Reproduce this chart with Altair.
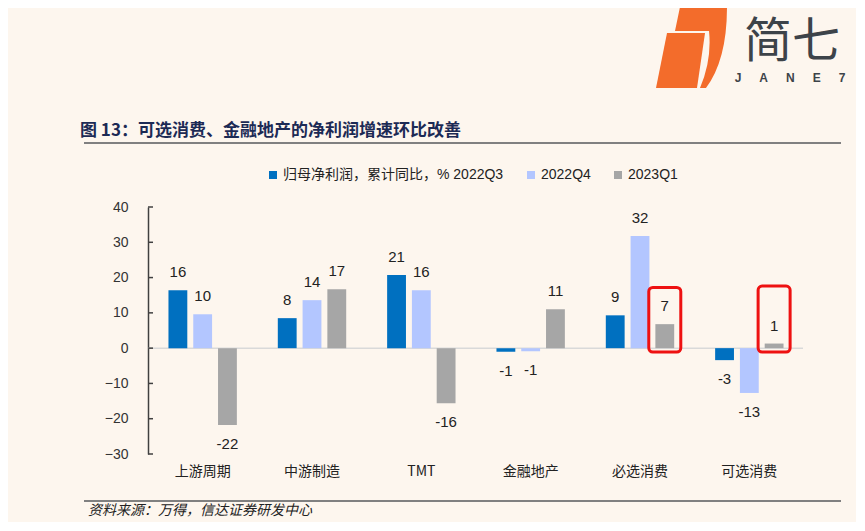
import altair as alt
import pandas as pd

# ---- data ----
categories = ["上游周期", "中游制造", "TMT", "金融地产", "必选消费", "可选消费"]
series = ["归母净利润，累计同比，% 2022Q3", "2022Q4", "2023Q1"]
q3_2022 = [16.4, 8.5, 20.7, -1.0, 9.3, -3.4]
q4_2022 = [9.6, 13.6, 16.4, -0.9, 31.8, -12.7]
q1_2023 = [-21.8, 16.7, -15.6, 11.0, 6.8, 1.3]
colors = ["#0070c0", "#b3c6ff", "#a6a6a6"]
y_ticks = [-30, -20, -10, 0, 10, 20, 30, 40]

highlight_categories = ["必选消费", "可选消费"]
highlight_series = "2023Q1"
highlight_top = [17.2, 17.6]
highlight_bottom = [-1.1, -1.1]

title_text = "图 13：可选消费、金融地产的净利润增速环比改善"
source_text = "资料来源：万得，信达证券研发中心"
logo_cn = "简七"
logo_en = "\u2003\u2002".join(list("JANE7"))

# ---- tables ----
rows = []
for s, vals in zip(series, [q3_2022, q4_2022, q1_2023]):
    for c, v in zip(categories, vals):
        rows.append({"category": c, "series": s, "value": v, "label": str(int(round(v)))})
df = pd.DataFrame(rows)
box_df = pd.DataFrame({
    "category": highlight_categories,
    "series": [highlight_series] * len(highlight_categories),
    "top": highlight_top,
    "bottom": highlight_bottom,
})
tick_df = pd.DataFrame({"t": y_ticks})

NUM_FONT = "Liberation Sans, Arial, Noto Sans CJK SC"
CJK_FONT = "Noto Sans CJK SC"

x_enc = alt.X("category:N", sort=categories,
              scale=alt.Scale(paddingInner=0.32, paddingOuter=0.16),
              axis=alt.Axis(title=None, domain=False, ticks=False, labelAngle=0,
                            labelFont=CJK_FONT, labelFontSize=14, labelColor="#222222",
                            labelPadding=10))
xo_enc = alt.XOffset("series:N", sort=series,
                     scale=alt.Scale(paddingInner=0.24, paddingOuter=0.12))
y_scale = alt.Scale(domain=[-30, 40], nice=False)
y_axis = alt.Axis(title=None, values=y_ticks, grid=False, ticks=False,
                  labelOverlap=False, labelFlush=False,
                  domainColor="#404040", domainWidth=1.5,
                  labelFont=NUM_FONT, labelFontSize=14, labelColor="#333333",
                  labelPadding=20)


def Y(field):
    return alt.Y(field, scale=y_scale, axis=y_axis)


bars = alt.Chart(df).mark_bar().encode(
    x=x_enc,
    xOffset=xo_enc,
    y=Y("value:Q"),
    color=alt.Color("series:N", sort=series,
                    scale=alt.Scale(domain=series, range=colors),
                    legend=alt.Legend(orient="none", legendX=118, legendY=-39,
                                      direction="horizontal", title=None,
                                      symbolType="square", symbolSize=64,
                                      symbolStrokeWidth=0,
                                      labelFont=NUM_FONT, labelFontSize=14,
                                      labelColor="#222222", labelLimit=500,
                                      columnPadding=20, labelOffset=3)),
)

pos_labels = alt.Chart(df).transform_filter("datum.value >= 0").mark_text(
    dy=-18, baseline="middle", font=NUM_FONT, fontSize=15, color="#222222"
).encode(x=x_enc, xOffset=xo_enc, y=Y("value:Q"), text="label:N")

neg_labels = alt.Chart(df).transform_filter("datum.value < 0").mark_text(
    dy=19, baseline="middle", font=NUM_FONT, fontSize=15, color="#222222"
).encode(x=x_enc, xOffset=xo_enc, y=Y("value:Q"), text="label:N")

zero_line = alt.Chart(pd.DataFrame({"z": [0]})).mark_rule(
    color="#d9d9d9", strokeWidth=1.5
).encode(y=Y("z:Q"), x=alt.value(0), x2=alt.value(655))

tick_marks = alt.Chart(tick_df).mark_rule(color="#404040", strokeWidth=1.5).encode(
    y=Y("t:Q"), x=alt.value(0), x2=alt.value(5))

boxes = alt.Chart(box_df).mark_bar(
    filled=False, color="#ee1111", strokeWidth=3, cornerRadius=4, width=32
).encode(x=x_enc, xOffset=xo_enc, y=Y("top:Q"), y2="bottom:Q")

title = alt.Chart(pd.DataFrame({"t": [title_text]})).mark_text(
    align="left", baseline="middle", font=CJK_FONT, fontSize=17, fontWeight="bold",
    color="#1c2a55"
).encode(x=alt.value(-68), y=alt.value(-76), text="t:N")

top_rule = alt.Chart(pd.DataFrame({"a": [0]})).mark_rule(color="#808080", strokeWidth=2).encode(
    x=alt.value(-64), x2=alt.value(693), y=alt.value(-64))
bottom_rule = alt.Chart(pd.DataFrame({"a": [0]})).mark_rule(color="#808080", strokeWidth=2).encode(
    x=alt.value(-64), x2=alt.value(693), y=alt.value(294))

source = alt.Chart(pd.DataFrame({"t": [source_text]})).mark_text(
    align="left", baseline="middle", font=CJK_FONT, fontSize=14, fontStyle="italic",
    color="#222222"
).encode(x=alt.value(-60), y=alt.value(304), text="t:N")

back_path = ("M -0.286 -0.952 L 0.833 -0.952 Q 0.833 0.31 0.333 0.976 L 0.19 0.976 "
             "Q 0.476 0.31 0.405 -0.381 L -0.405 -0.381 Z")
front_path = "M -0.595 -0.333 L 0.31 -0.333 L 0.119 0.976 L -0.857 0.976 Z"
logo_back = alt.Chart(pd.DataFrame({"a": [0]})).mark_point(
    shape=back_path, size=7056, filled=True, color="#f36c2b", opacity=1
).encode(x=alt.value(544), y=alt.value(-160))
logo_front = alt.Chart(pd.DataFrame({"a": [0]})).mark_point(
    shape=front_path, size=7056, filled=True, color="#f36c2b", opacity=1
).encode(x=alt.value(544), y=alt.value(-160))
logo_text = alt.Chart(pd.DataFrame({"t": [logo_cn]})).mark_text(
    align="center", baseline="middle", font=CJK_FONT, fontSize=48, fontWeight=400,
    color="#3d4349"
).encode(x=alt.value(644), y=alt.value(-164), text="t:N")
logo_sub = alt.Chart(pd.DataFrame({"t": [logo_en]})).mark_text(
    align="center", baseline="middle", font=NUM_FONT, fontSize=12, fontWeight="bold",
    color="#3d4349"
).encode(x=alt.value(642), y=alt.value(-129), text="t:N")

chart = alt.layer(
    zero_line, bars, tick_marks, pos_labels, neg_labels, boxes,
    title, top_rule, bottom_rule, source, logo_back, logo_front, logo_text, logo_sub
).properties(
    width=656, height=247,
    autosize=alt.AutoSizeParams(type="none"),
    padding={"left": 140, "top": 199, "right": 52, "bottom": 68},
    background="#fdf6ee",
).configure_view(stroke=None)

chart.save("out.html", embed_options={"renderer": "svg", "actions": False})
